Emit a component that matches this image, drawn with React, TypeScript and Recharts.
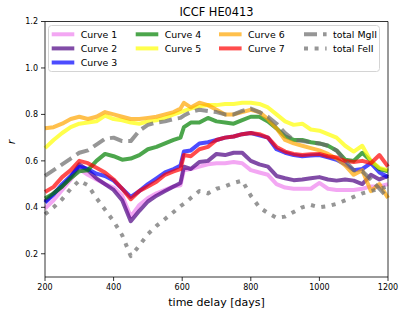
import { LineChart, Line, XAxis, YAxis, Legend, ReferenceLine } from 'recharts'

// time delay grid (days); denser around the step near 600 days
const days = [
  200, 225, 250, 275, 300, 325, 350, 375, 400, 425, 450, 475, 500, 525, 550, 575, 595, 605, 625, 650, 675,
  700, 725, 750, 775, 800, 825, 850, 875, 900, 925, 950, 975, 1000, 1025, 1050, 1075, 1100, 1125, 1150, 1175, 1200,
]

const curve1 = [
  0.395, 0.43, 0.475, 0.52, 0.565, 0.54, 0.52, 0.5, 0.485, 0.45, 0.36, 0.41, 0.44, 0.46, 0.475, 0.49, 0.495, 0.56, 0.565, 0.575, 0.585,
  0.59, 0.59, 0.595, 0.59, 0.56, 0.55, 0.54, 0.5, 0.485, 0.48, 0.48, 0.48, 0.505, 0.48, 0.475, 0.475, 0.475, 0.48, 0.49, 0.49, 0.5,
]
const curve2 = [
  0.425, 0.46, 0.49, 0.53, 0.585, 0.56, 0.525, 0.5, 0.475, 0.43, 0.34, 0.385, 0.425, 0.45, 0.47, 0.49, 0.505, 0.575, 0.565, 0.595, 0.6,
  0.63, 0.625, 0.635, 0.635, 0.6, 0.585, 0.575, 0.535, 0.525, 0.517, 0.52, 0.525, 0.53, 0.52, 0.515, 0.52, 0.515, 0.5, 0.54, 0.52, 0.535,
]
const curve3 = [
  0.42, 0.455, 0.5, 0.535, 0.575, 0.565, 0.545, 0.535, 0.515, 0.48, 0.445, 0.47, 0.5, 0.525, 0.55, 0.565, 0.58, 0.64, 0.645, 0.675, 0.68,
  0.69, 0.7, 0.705, 0.715, 0.72, 0.71, 0.7, 0.65, 0.635, 0.625, 0.62, 0.623, 0.625, 0.615, 0.605, 0.585, 0.56, 0.565, 0.59, 0.55, 0.53,
]
const curve4 = [
  0.438, 0.46, 0.49, 0.525, 0.555, 0.56, 0.6, 0.63, 0.62, 0.605, 0.61, 0.625, 0.65, 0.66, 0.675, 0.69, 0.7, 0.745, 0.765, 0.765, 0.785,
  0.77, 0.765, 0.76, 0.775, 0.79, 0.79, 0.77, 0.74, 0.705, 0.69, 0.69, 0.68, 0.675, 0.665, 0.645, 0.605, 0.6, 0.635, 0.6, 0.565, 0.555,
]
const curve5 = [
  0.655, 0.69, 0.72, 0.745, 0.76, 0.765, 0.77, 0.795, 0.78, 0.775, 0.765, 0.76, 0.77, 0.775, 0.785, 0.8, 0.81, 0.815, 0.825, 0.835, 0.84,
  0.84, 0.845, 0.845, 0.85, 0.85, 0.845, 0.83, 0.8, 0.77, 0.755, 0.76, 0.735, 0.73, 0.715, 0.7, 0.665, 0.64, 0.665, 0.6, 0.57, 0.56,
]
const curve6 = [
  0.74, 0.745, 0.76, 0.78, 0.79, 0.78, 0.79, 0.81, 0.8, 0.79, 0.78, 0.78, 0.785, 0.79, 0.8, 0.81, 0.825, 0.85, 0.83, 0.85, 0.84,
  0.82, 0.8, 0.8, 0.81, 0.82, 0.81, 0.78, 0.74, 0.69, 0.675, 0.665, 0.655, 0.645, 0.63, 0.61, 0.58, 0.54, 0.56, 0.47, 0.5, 0.44,
]
const curve7 = [
  0.466, 0.488, 0.53, 0.56, 0.6, 0.59, 0.57, 0.55, 0.52, 0.48, 0.435, 0.47, 0.49, 0.51, 0.54, 0.555, 0.565, 0.625, 0.62, 0.65, 0.66,
  0.69, 0.7, 0.705, 0.715, 0.72, 0.715, 0.7, 0.66, 0.64, 0.63, 0.625, 0.628, 0.63, 0.62, 0.615, 0.6, 0.595, 0.6, 0.59, 0.625, 0.575,
]
const totalMgII = [
  0.535, 0.56, 0.585, 0.61, 0.635, 0.645, 0.67, 0.695, 0.7, 0.685, 0.685, 0.73, 0.755, 0.765, 0.77, 0.78, 0.785, 0.795, 0.81, 0.82, 0.815,
  0.81, 0.8, 0.8, 0.815, 0.825, 0.81, 0.79, 0.76, 0.72, 0.69, 0.685, 0.68, 0.675, 0.665, 0.645, 0.6, 0.56, 0.555, 0.52, 0.48, 0.44,
]
const totalFeII = [
  0.37, 0.4, 0.435, 0.48, 0.515, 0.495, 0.44, 0.39, 0.34, 0.28, 0.19, 0.235, 0.285, 0.32, 0.35, 0.38, 0.405, 0.415, 0.44, 0.47, 0.46,
  0.48, 0.49, 0.505, 0.515, 0.45, 0.4, 0.375, 0.355, 0.36, 0.38, 0.4, 0.41, 0.4, 0.405, 0.415, 0.43, 0.445, 0.46, 0.47, 0.48, 0.49,
]

const xTicks = [200, 400, 600, 800, 1000, 1200]
const yTicks = [0.2, 0.4, 0.6, 0.8, 1.0, 1.2]

const series = [
  { key: 'c1', name: 'Curve 1', values: curve1, color: '#ee82ee' },
  { key: 'c2', name: 'Curve 2', values: curve2, color: '#4b0082' },
  { key: 'c3', name: 'Curve 3', values: curve3, color: '#0000ff' },
  { key: 'c4', name: 'Curve 4', values: curve4, color: '#008000' },
  { key: 'c5', name: 'Curve 5', values: curve5, color: '#ffff00' },
  { key: 'c6', name: 'Curve 6', values: curve6, color: '#ffa500' },
  { key: 'c7', name: 'Curve 7', values: curve7, color: '#ff0000' },
  { key: 'mg', name: 'total MgII', values: totalMgII, color: '#6a6a6a', dash: '13 6' },
  { key: 'fe', name: 'total FeII', values: totalFeII, color: '#6a6a6a', dash: '4 6.6' },
]

const data = days.map((day, i) => {
  const row: Record<string, number> = { day }
  series.forEach((s) => { row[s.key] = s.values[i] })
  return row
})

const font = 'DejaVu Sans, sans-serif'

// matplotlib-style legend: 4 columns, filled column by column
const legendCols = [[0, 1, 2], [3, 4], [5, 6], [7, 8]]
const colX = [3.7, 87.7, 171, 256]

function ChartLegend() {
  return (
    <svg width={333} height={48} style={{ display: 'block' }}>
      <rect x={0.5} y={0.5} width={331} height={46} rx={3} fill="#fff" fillOpacity={0.8} stroke="#d4d4d4" />
      {legendCols.map((col, ci) =>
        col.map((si, ri) => {
          const s = series[si]
          const x = colX[ci]
          const y = 9.3 + ri * 14.1
          return (
            <g key={s.key}>
              <line x1={x} x2={x + 22.6} y1={y} y2={y} stroke={s.color} strokeOpacity={0.7}
                strokeWidth={4} strokeDasharray={s.dash} />
              <text x={x + 29} y={y} dominantBaseline="central" fontSize={9.4} fontFamily={font} fill="#000">
                {s.name}
              </text>
            </g>
          )
        })
      )}
    </svg>
  )
}

export default function App() {
  return (
    <div style={{ position: 'fixed', left: 0, top: 0, width: 407, height: 316, background: '#fff', fontFamily: font }}>
      <div style={{ position: 'absolute', left: 45, width: 343, top: 5, lineHeight: '14px', fontSize: 11.4, textAlign: 'center' }}>
        ICCF HE0413
      </div>
      <div style={{ position: 'absolute', left: 10, top: 135, lineHeight: '14px', fontSize: 11, fontStyle: 'italic', transform: 'rotate(-90deg)' }}>
        r
      </div>
      <LineChart width={407} height={316} data={data} margin={{ top: 21.5, right: 19, bottom: 9, left: 10 }}>
        <XAxis dataKey="day" type="number" domain={[200, 1200]} ticks={xTicks} height={30}
          tickSize={4} tickMargin={3} stroke="#000" strokeWidth={0.8}
          tick={{ fontSize: 8, fill: '#000', fontFamily: font }}
          label={{ value: 'time delay [days]', position: 'insideBottom', offset: 1.5, fontSize: 11, fill: '#000', fontFamily: font }} />
        <YAxis type="number" domain={[0.1, 1.2]} ticks={yTicks} width={35}
          tickSize={4} tickMargin={3} stroke="#000" strokeWidth={0.8}
          tickFormatter={(v: number) => v.toFixed(1)}
          tick={{ fontSize: 8, fill: '#000', fontFamily: font }} />
        {series.map((s) => (
          <Line key={s.key} dataKey={s.key} name={s.name} type="linear" dot={false} activeDot={false}
            stroke={s.color} strokeOpacity={0.7} strokeWidth={4} strokeDasharray={s.dash}
            strokeLinejoin="round" isAnimationActive={false} />
        ))}
        <ReferenceLine y={1.2} stroke="#000" strokeWidth={0.8} />
        <ReferenceLine x={1200} stroke="#000" strokeWidth={0.8} />
        <Legend layout="horizontal" verticalAlign="middle" align="center"
          wrapperStyle={{ top: 25, left: 48, width: 333, height: 48 }} content={() => <ChartLegend />} />
      </LineChart>
    </div>
  )
}
